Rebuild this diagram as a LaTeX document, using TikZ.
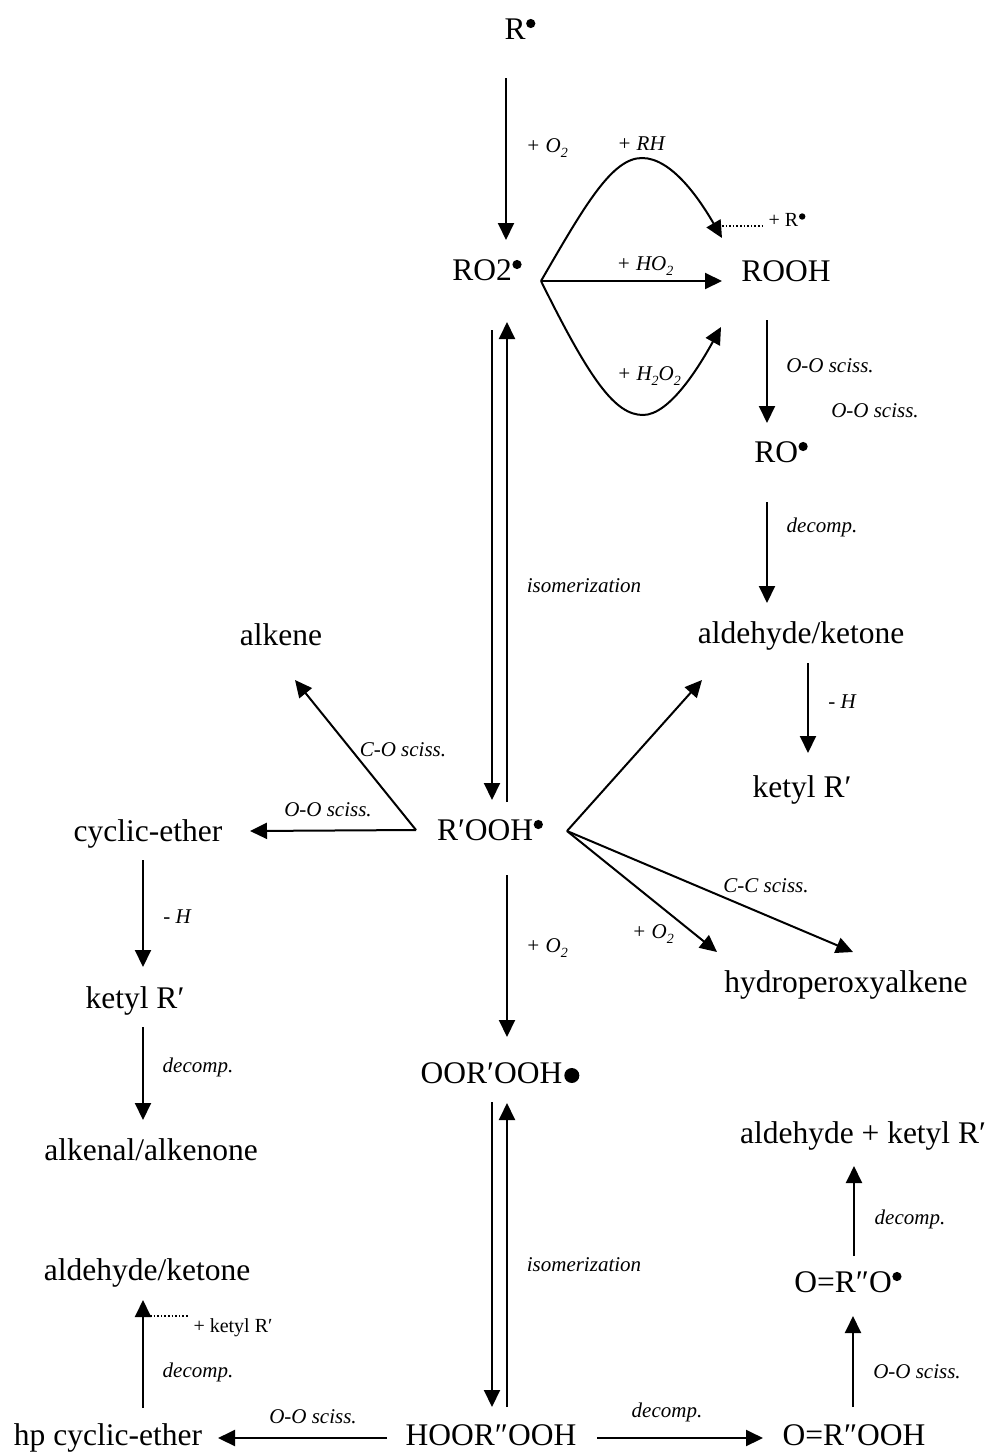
\documentclass[tikz,border=0pt]{standalone}
\usepackage{fontspec}
\setmainfont{Liberation Serif}
\usetikzlibrary{arrows.meta}
\newcommand{\rad}{\kern0.5pt\tikz[baseline=0pt]\fill (4.6pt,15.5pt) circle[radius=4.6pt];}
\newcommand{\srad}{\kern0.8pt\tikz[baseline=0pt]\fill (3.2pt,9.5pt) circle[radius=3.2pt];}
\newcommand{\bigdot}{\kern2pt\tikz[baseline=0pt]\fill (0pt,7.5pt) circle[radius=7.5pt];}
\newcommand{\sub}[1]{\raisebox{-0.28em}{\fontsize{14}{14}\selectfont #1}}
\begin{document}
\begin{tikzpicture}[x=1pt,y=-1pt,
  species/.style={font=\fontsize{31.5}{32}\selectfont, inner sep=0pt, anchor=base},
  lbl/.style={font=\fontsize{21}{22}\selectfont\itshape, inner sep=0pt, anchor=base},
  slbl/.style={font=\fontsize{20}{21}\selectfont, inner sep=0pt, anchor=base},
  arr/.style={line width=2pt, -{Triangle[length=17pt,width=16pt]}},
  dotline/.style={line width=1.6pt, dotted}]
\useasboundingbox (0,0) rectangle (991,1454);

% species
\node[species] (R) at (520,39) {R\rad};
\node[species] (RO2) at (487,280) {RO2\rad};
\node[species] (ROOH) at (786,281) {ROOH};
\node[species] (RO) at (781,462) {RO\rad};
\node[species] (ald1) at (801,643) {aldehyde/ketone};
\node[species] (ket1) at (802,797) {ketyl R′};
\node[species] (alkene) at (281,645) {alkene};
\node[species] (cyc) at (148,841) {cyclic-ether};
\node[species] (R1OOH) at (490,840) {R′OOH\rad};
\node[species] (hpa) at (846,992) {hydroperoxyalkene};
\node[species] (ket2) at (135,1008) {ketyl R′};
\node[species] (alkenal) at (151,1160) {alkenal/alkenone};
\node[species] (OOR) at (500,1083) {OOR′OOH\bigdot};
\node[species] (ald2) at (147,1280) {aldehyde/ketone};
\node[species] (hpce) at (108,1445) {hp cyclic-ether};
\node[species] (HOOR) at (491,1445) {HOOR″OOH};
\node[species] (OROOH) at (854,1445) {O=R″OOH};
\node[species] (ORO) at (848,1292) {O=R″O\rad};
\node[species] (aldk) at (863,1143) {aldehyde + ketyl R′};

% labels
\node[lbl] (l1) at (547,152) {+ O\sub{2}};
\node[lbl] (l2) at (641,150) {+ RH};
\node[lbl] (l3) at (645,270) {+ HO\sub{2}};
\node[slbl] (l4) at (787,226) {+ R\srad};
\node[lbl] (l5) at (649,380) {+ H\sub{2}O\sub{2}};
\node[lbl] (l6) at (830,372) {O-O sciss.};
\node[lbl] (l7) at (875,417) {O-O sciss.};
\node[lbl] (l8) at (822,532) {decomp.};
\node[lbl] (l9) at (584,592) {isomerization};
\node[lbl] (l10) at (842,708) {- H};
\node[lbl] (l11) at (403,756) {C-O sciss.};
\node[lbl] (l12) at (328,816) {O-O sciss.};
\node[lbl] (l13) at (766,892) {C-C sciss.};
\node[lbl] (l14) at (653,938) {+ O\sub{2}};
\node[lbl] (l15) at (547,952) {+ O\sub{2}};
\node[lbl] (l16) at (177,923) {- H};
\node[lbl] (l17) at (198,1072) {decomp.};
\node[lbl] (l18) at (584,1271) {isomerization};
\node[slbl] (l19) at (233,1332) {+ ketyl R′};
\node[lbl] (l20) at (198,1377) {decomp.};
\node[lbl] (l21) at (313,1423) {O-O sciss.};
\node[lbl] (l22) at (667,1417) {decomp.};
\node[lbl] (l23) at (910,1224) {decomp.};
\node[lbl] (l24) at (917,1378) {O-O sciss.};

% connector end points
\coordinate (R-s) at (506,78);
\coordinate (RO2-n) at (506,240);
\coordinate (RO2-e) at (541,281);
\coordinate (ROOH-w) at (722,281);
\coordinate (ROOH-nw) at (722,238);
\coordinate (ROOH-sw) at (721,327);
\coordinate (Rdot-a) at (722,226);
\coordinate (Rdot-w) at (763,226);
\coordinate (ROOH-s) at (767,320);
\coordinate (RO-n) at (767,423);
\coordinate (RO-s) at (767,502);
\coordinate (ald1-n) at (767,603);
\coordinate (ald1-s) at (808,663);
\coordinate (ket1-n) at (808,753);
\coordinate (RO2-sl) at (492,330);
\coordinate (R1OOH-nl) at (492,800);
\coordinate (R1OOH-nr) at (507,802);
\coordinate (RO2-sr) at (507,322);
\coordinate (vL) at (416,830);
\coordinate (alkene-s) at (295,680);
\coordinate (cyc-e) at (250,831);
\coordinate (vR) at (567,831);
\coordinate (ald1-sw) at (702,680);
\coordinate (hpa-n1) at (717,952);
\coordinate (hpa-n2) at (853,952);
\coordinate (R1OOH-s) at (507,875);
\coordinate (OOR-n) at (507,1037);
\coordinate (OOR-sl) at (492,1102);
\coordinate (HOOR-nl) at (492,1407);
\coordinate (HOOR-nr) at (507,1407);
\coordinate (OOR-sr) at (507,1103);
\coordinate (cyc-s) at (143,860);
\coordinate (ket2-n) at (143,967);
\coordinate (ket2-s) at (143,1027);
\coordinate (alkenal-n) at (143,1120);
\coordinate (HOOR-w) at (387,1438);
\coordinate (hpce-e) at (218,1438);
\coordinate (hpce-n) at (143,1408);
\coordinate (ald2-s) at (143,1300);
\coordinate (ald2-arr) at (150,1316);
\coordinate (ketdot-w) at (188,1316);
\coordinate (HOOR-e) at (597,1438);
\coordinate (OROOH-w) at (763,1438);
\coordinate (OROOH-n) at (853,1407);
\coordinate (ORO-s) at (853,1316);
\coordinate (ORO-n) at (854,1256);
\coordinate (aldk-s) at (854,1166);

% connectors
\draw[arr] (R-s) -- (RO2-n);
\draw[arr] (RO2-e) -- (ROOH-w);
\draw[arr] (RO2-e) .. controls (585,205) and (612,158) .. (642,158)
  .. controls (672,158) and (700,200) .. (ROOH-nw);
\draw[arr] (RO2-e) .. controls (590,380) and (615,415) .. (643,415)
  .. controls (670,415) and (700,365) .. (ROOH-sw);
\draw[dotline] (Rdot-a) -- (Rdot-w);
\draw[arr] (ROOH-s) -- (RO-n);
\draw[arr] (RO-s) -- (ald1-n);
\draw[arr] (ald1-s) -- (ket1-n);
\draw[arr] (RO2-sl) -- (R1OOH-nl);
\draw[arr] (R1OOH-nr) -- (RO2-sr);
\draw[arr] (vL) -- (alkene-s);
\draw[arr] (vL) -- (cyc-e);
\draw[arr] (vR) -- (ald1-sw);
\draw[arr] (vR) -- (hpa-n1);
\draw[arr] (vR) -- (hpa-n2);
\draw[arr] (R1OOH-s) -- (OOR-n);
\draw[arr] (OOR-sl) -- (HOOR-nl);
\draw[arr] (HOOR-nr) -- (OOR-sr);
\draw[arr] (cyc-s) -- (ket2-n);
\draw[arr] (ket2-s) -- (alkenal-n);
\draw[arr] (HOOR-w) -- (hpce-e);
\draw[arr] (hpce-n) -- (ald2-s);
\draw[dotline] (ald2-arr) -- (ketdot-w);
\draw[arr] (HOOR-e) -- (OROOH-w);
\draw[arr] (OROOH-n) -- (ORO-s);
\draw[arr] (ORO-n) -- (aldk-s);
\end{tikzpicture}
\end{document}
